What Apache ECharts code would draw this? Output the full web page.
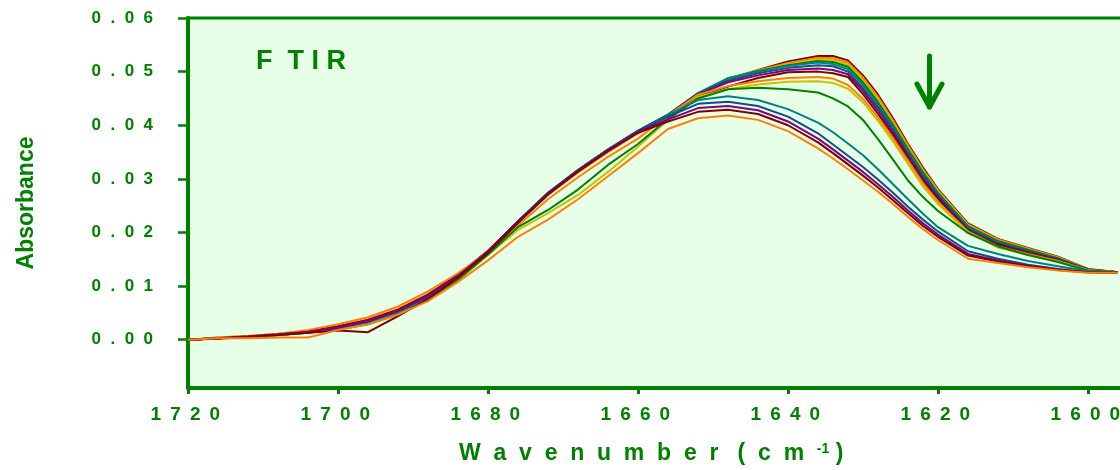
<!DOCTYPE html>
<html>
<head>
<meta charset="utf-8">
<script src="https://cdn.jsdelivr.net/npm/echarts@6/dist/echarts.min.js"></script>
<style>
  html, body { margin: 0; padding: 0; background: #ffffff; }
  #chart { width: 1120px; height: 470px; }
</style>
</head>
<body>
<div id="chart"></div>
<script>
// Amide I band, absorbance spectra recorded in sequence (cm-1)
const wavenumbers = [1720, 1716, 1712, 1708, 1704, 1700, 1696, 1692, 1688, 1684, 1680, 1676,
  1672, 1668, 1664, 1660, 1656, 1652, 1648, 1644, 1640, 1636, 1634, 1632, 1630, 1628, 1626,
  1624, 1622, 1620, 1616, 1612, 1608, 1604, 1600, 1596];

const s01 = [0, .0003, .0006, .0010, .0015, .0023, .0035, .0053, .0081, .0119, .0164, .0219, .0271, .0313, .0351, .0386, .0416, .0455, .0486, .0503, .0519, .0529, .0529, .0521, .0493, .0457, .0413, .0365, .0321, .0281, .0217, .0188, .0171, .0155, .0132, .0126];
const s02 = [0, .0004, .0007, .0011, .0016, .0025, .0038, .0057, .0085, .0121, .0165, .0219, .0270, .0312, .0350, .0385, .0416, .0456, .0485, .0502, .0516, .0526, .0525, .0517, .0489, .0453, .0409, .0362, .0318, .0279, .0215, .0187, .0170, .0154, .0132, .0126];
const s03 = [0, .0003, .0006, .0010, .0015, .0023, .0036, .0055, .0083, .0120, .0164, .0220, .0272, .0314, .0352, .0387, .0418, .0458, .0486, .0502, .0514, .0523, .0522, .0513, .0484, .0448, .0405, .0358, .0315, .0277, .0214, .0185, .0169, .0153, .0131, .0126];
const s04 = [0, .0003, .0006, .0009, .0014, .0021, .0033, .0052, .0080, .0118, .0163, .0220, .0273, .0315, .0353, .0388, .0419, .0459, .0487, .0501, .0512, .0520, .0518, .0509, .0480, .0443, .0401, .0355, .0312, .0274, .0212, .0184, .0168, .0152, .0131, .0126];
const s05 = [0, .0003, .0006, .0009, .0014, .0022, .0034, .0053, .0081, .0119, .0164, .0221, .0274, .0316, .0354, .0389, .0420, .0460, .0488, .0500, .0511, .0517, .0514, .0505, .0475, .0438, .0397, .0351, .0308, .0272, .0210, .0182, .0166, .0151, .0131, .0126];
const s06 = [0, .0003, .0006, .0010, .0015, .0023, .0035, .0054, .0082, .0120, .0165, .0221, .0274, .0317, .0355, .0390, .0420, .0459, .0483, .0497, .0507, .0512, .0510, .0500, .0469, .0433, .0392, .0347, .0304, .0269, .0207, .0180, .0165, .0150, .0131, .0126];
const s07 = [0, .0003, .0006, .0010, .0015, .0024, .0036, .0055, .0083, .0120, .0165, .0221, .0273, .0316, .0354, .0389, .0419, .0457, .0480, .0493, .0503, .0506, .0503, .0495, .0464, .0427, .0387, .0343, .0300, .0266, .0205, .0178, .0163, .0149, .0130, .0126];
const s08 = [0, .0003, .0006, .0010, .0016, .0025, .0037, .0056, .0084, .0121, .0166, .0220, .0272, .0314, .0352, .0387, .0417, .0454, .0472, .0488, .0499, .0500, .0497, .0490, .0458, .0421, .0382, .0339, .0296, .0263, .0203, .0177, .0162, .0148, .0130, .0126];
const s09 = [0, .0004, .0007, .0011, .0018, .0029, .0042, .0062, .0090, .0124, .0164, .0213, .0262, .0303, .0341, .0375, .0418, .0457, .0473, .0482, .0488, .0490, .0487, .0475, .0449, .0414, .0376, .0334, .0292, .0257, .0202, .0174, .0160, .0147, .0130, .0126];
const s10 = [0, .0003, .0006, .0009, .0013, .0020, .0030, .0048, .0075, .0112, .0158, .0205, .0236, .0270, .0313, .0360, .0410, .0453, .0467, .0476, .0481, .0482, .0479, .0468, .0443, .0408, .0370, .0328, .0286, .0253, .0200, .0172, .0158, .0146, .0129, .0126];
const s11 = [0, .0003, .0005, .0009, .0013, .0019, .0029, .0047, .0074, .0112, .0159, .0210, .0242, .0280, .0326, .0365, .0412, .0450, .0467, .0470, .0467, .0461, .0450, .0435, .0410, .0374, .0336, .0297, .0266, .0240, .0199, .0174, .0158, .0145, .0129, .0126];
const s12 = [0, .0003, .0005, .0009, .0013, .0020, .0031, .0050, .0079, .0117, .0162, .0218, .0272, .0316, .0354, .0388, .0419, .0447, .0454, .0447, .0430, .0405, .0387, .0366, .0344, .0318, .0290, .0262, .0235, .0210, .0175, .0160, .0147, .0137, .0128, .0126];
const s13 = [0, .0003, .0006, .0010, .0014, .0022, .0034, .0053, .0081, .0119, .0164, .0220, .0273, .0316, .0354, .0389, .0416, .0440, .0444, .0436, .0416, .0385, .0364, .0343, .0322, .0299, .0274, .0248, .0224, .0202, .0165, .0151, .0140, .0132, .0126, .0125];
const s14 = [0, .0003, .0006, .0010, .0015, .0023, .0035, .0054, .0082, .0119, .0164, .0219, .0272, .0315, .0353, .0387, .0411, .0432, .0436, .0428, .0407, .0375, .0355, .0334, .0313, .0290, .0266, .0241, .0217, .0196, .0160, .0148, .0138, .0131, .0126, .0125];
const s15 = [0, .0002, .0005, .0009, .0013, .0017, .0014, .0044, .0076, .0116, .0162, .0218, .0271, .0314, .0352, .0386, .0407, .0425, .0429, .0421, .0400, .0368, .0348, .0327, .0306, .0284, .0260, .0236, .0212, .0192, .0157, .0146, .0137, .0130, .0126, .0125];
const s16 = [0, .0003, .0003, .0004, .0004, .0018, .0029, .0047, .0072, .0108, .0148, .0192, .0224, .0262, .0305, .0348, .0393, .0413, .0418, .0410, .0389, .0357, .0338, .0318, .0297, .0276, .0253, .0229, .0206, .0186, .0151, .0143, .0135, .0129, .0125, .0125];

const yTicks = [0, 0.01, 0.02, 0.03, 0.04, 0.05, 0.06];

const spectra = [s01, s02, s03, s04, s05, s06, s07, s08, s09, s10, s11, s12, s13, s14, s15, s16];
const palette = ['#800000', '#ff8000', '#c8c000', '#008000', '#008080', '#104e8b', '#800080'];

const GREEN = '#008000';
const FONT = '"Liberation Sans", Arial, sans-serif';
const spaced = (s, gap) => String(s).split('').join(gap);

const chart = echarts.init(document.getElementById('chart'), null, { renderer: 'canvas' });

chart.setOption({
  animation: false,
  backgroundColor: '#ffffff',
  grid: {
    left: 188, top: 18, right: -118, bottom: 82,
    containLabel: false, outerBoundsMode: 'none',
    show: true, backgroundColor: '#e6ffe6', borderColor: GREEN, borderWidth: 3
  },
  xAxis: {
    type: 'value', inverse: true, min: 1580, max: 1720, interval: 20,
    axisLine: { onZero: false, lineStyle: { color: GREEN, width: 4 } },
    axisTick: { length: 6, lineStyle: { color: GREEN, width: 3 } },
    axisLabel: {
      color: GREEN, fontWeight: 'bold', fontSize: 19, fontFamily: FONT, margin: 17,
      formatter: v => spaced(v, ' \u2009') + ' '
    },
    splitLine: { show: false }
  },
  yAxis: {
    type: 'value', min: -0.009, max: 0.06,
    name: 'Absorbance', nameLocation: 'middle', nameGap: 150, nameRotate: 90,
    nameTextStyle: { color: GREEN, fontWeight: 'bold', fontSize: 23, fontFamily: FONT },
    axisLine: { lineStyle: { color: GREEN, width: 4 } },
    axisTick: { length: 10, customValues: yTicks, lineStyle: { color: GREEN, width: 2.5 } },
    axisLabel: {
      customValues: yTicks, color: GREEN, fontWeight: 'bold', fontSize: 17, fontFamily: FONT, margin: 35,
      formatter: v => spaced(Number(v).toFixed(2), '  ')
    },
    splitLine: { show: false }
  },
  series: spectra.map((vals, i) => ({
    type: 'line',
    data: wavenumbers.map((w, j) => [w, vals[j]]),
    showSymbol: false,
    silent: true,
    lineStyle: { width: 2, color: palette[i % palette.length] },
    itemStyle: { color: palette[i % palette.length] }
  })),
  graphic: [
    {
      type: 'text', left: 256, top: 48,
      style: { text: 'F  T I R', font: 'bold 27px ' + FONT, fill: GREEN }
    },
    {
      type: 'text', left: 459, top: 442,
      style: {
        text: '{a|W  a  v  e  n  u  m  b  e  r   (  c  m  }{s|-1}{a| )}',
        rich: {
          a: { font: 'bold 23px ' + FONT, fill: GREEN },
          s: { font: 'bold 14px ' + FONT, fill: GREEN, verticalAlign: 'top' }
        }
      }
    },
    {
      type: 'group',
      children: [
        { type: 'line', shape: { x1: 929.5, y1: 56, x2: 929.5, y2: 107 },
          style: { stroke: GREEN, lineWidth: 5, lineCap: 'round' } },
        { type: 'polyline', shape: { points: [[917, 84], [929.5, 107], [942, 84]] },
          style: { stroke: GREEN, lineWidth: 5, lineCap: 'round', lineJoin: 'round', fill: null } }
      ]
    }
  ]
});
</script>
</body>
</html>
